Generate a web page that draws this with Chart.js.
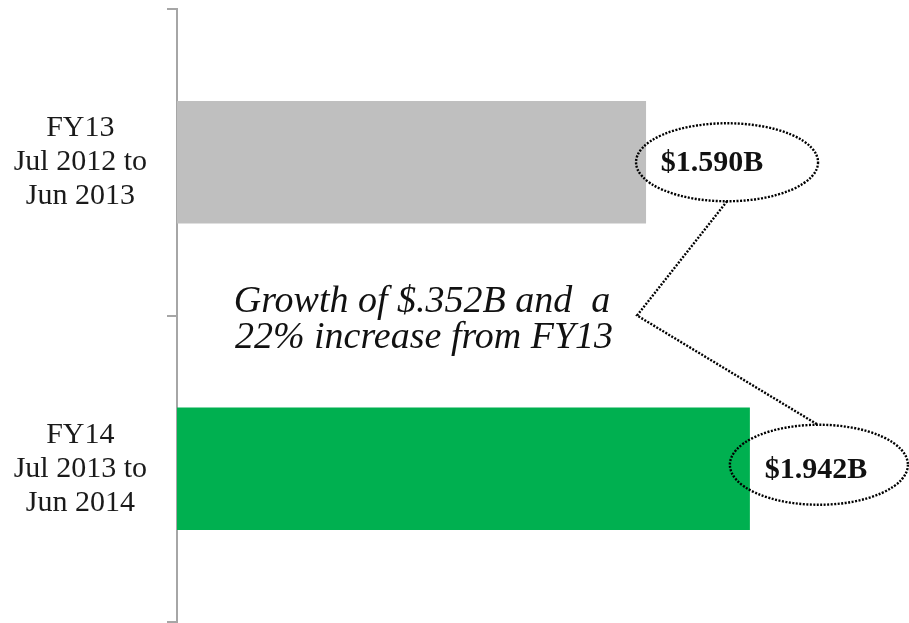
<!DOCTYPE html>
<html>
<head>
<meta charset="utf-8">
<script src="https://cdn.jsdelivr.net/npm/chart.js@4"></script>
<style>
  html, body { margin: 0; padding: 0; background: #ffffff; }
  #wrap { width: 909px; height: 623px; position: relative; }
</style>
</head>
<body>
<div id="wrap"><canvas id="c"></canvas></div>
<script>
const categories = [
  ["FY13", "Jul 2012 to", "Jun 2013"],
  ["FY14", "Jul 2013 to", "Jun 2014"]
];
const revenueBillions = [1.590, 1.942];
const valueLabels = ["$1.590B", "$1.942B"];
const barColors = ["#bfbfbf", "#00b050"];
const noteLines = ["Growth of $.352B and  a", "22% increase from FY13"];

const calloutPlugin = {
  id: 'callouts',
  afterDatasetsDraw(chart) {
    const ctx = chart.ctx;
    const bars = chart.getDatasetMeta(0).data;
    const yScale = chart.scales.y;
    const b0 = bars[0], b1 = bars[1];
    const e = [
      { cx: b0.x + 81, cy: b0.y, rx: 91, ry: 39, tx: b0.x + 66, ty: b0.y },
      { cx: b1.x + 69, cy: b1.y - 4, rx: 89, ry: 40, tx: b1.x + 66, ty: b1.y }
    ];
    ctx.save();
    ctx.strokeStyle = '#000000';
    ctx.lineWidth = 2.4;
    ctx.setLineDash([2, 1.5]);
    e.forEach(el => {
      ctx.beginPath();
      ctx.ellipse(el.cx, el.cy, el.rx, el.ry, 0, 0, Math.PI * 2);
      ctx.stroke();
    });
    const midY = (yScale.getPixelForValue(0) + yScale.getPixelForValue(1)) / 2;
    ctx.beginPath();
    ctx.moveTo(e[0].cx, e[0].cy + e[0].ry);
    ctx.lineTo(b0.x - 9, midY);
    ctx.lineTo(e[1].cx - 1, e[1].cy - e[1].ry);
    ctx.stroke();
    ctx.setLineDash([]);
    ctx.fillStyle = '#111111';
    ctx.font = 'bold 30px "Liberation Serif", "DejaVu Serif", serif';
    ctx.textAlign = 'center';
    ctx.textBaseline = 'middle';
    e.forEach((el, i) => ctx.fillText(valueLabels[i], el.tx, el.ty + 1));
    ctx.font = 'italic 38px "Liberation Serif", "DejaVu Serif", serif';
    ctx.textBaseline = 'alphabetic';
    ctx.textAlign = 'center';
    ctx.fillText(noteLines[0], 422, midY - 4);
    ctx.fillText(noteLines[1], 424, midY + 32);
    ctx.restore();
  }
};

new Chart(document.getElementById('c'), {
  type: 'bar',
  data: {
    labels: categories,
    datasets: [{
      data: revenueBillions,
      backgroundColor: barColors,
      borderWidth: 0,
      barPercentage: 0.4,
      categoryPercentage: 1.0
    }]
  },
  options: {
    indexAxis: 'y',
    responsive: true,
    maintainAspectRatio: false,
    animation: false,
    layout: { padding: { top: 9, right: 24, bottom: 1, left: 0 } },
    plugins: {
      legend: { display: false },
      tooltip: { enabled: false }
    },
    scales: {
      x: {
        display: false,
        min: 0,
        max: 2.4
      },
      y: {
        afterFit(scale) {
          scale.width = 177;
          scale.paddingTop = 0;
          scale.paddingBottom = 0;
        },
        grid: {
          offset: true,
          drawOnChartArea: false,
          drawTicks: true,
          tickLength: 10,
          color: '#a6a6a6',
          lineWidth: 2
        },
        border: { display: true, color: '#a6a6a6', width: 2 },
        ticks: {
          crossAlign: 'center',
          padding: 20,
          color: '#1a1a1a',
          font: { family: '"Liberation Serif", "DejaVu Serif", serif', size: 30, lineHeight: 1.13 }
        }
      }
    }
  },
  plugins: [calloutPlugin]
});
</script>
</body>
</html>
